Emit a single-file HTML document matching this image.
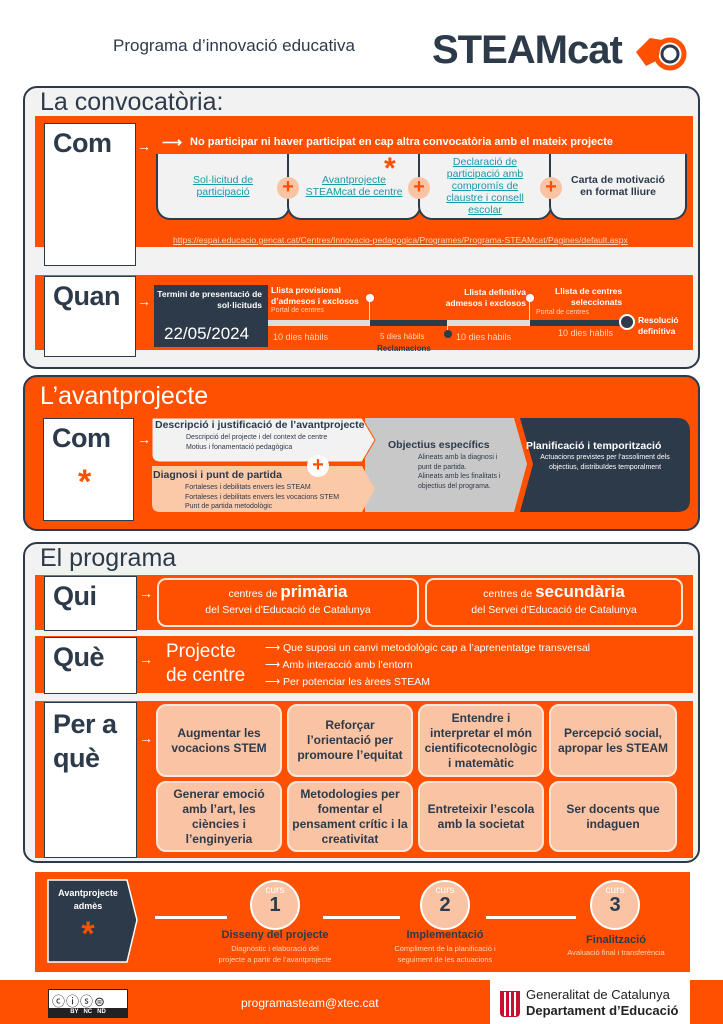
<!DOCTYPE html>
<html><head><meta charset="utf-8"><style>
*{box-sizing:border-box;margin:0;padding:0}
body{width:723px;height:1024px;background:#fff;font-family:"Liberation Sans",sans-serif;position:relative;overflow:hidden;color:#2d3a4a}
.a{position:absolute}
.or{background:#fe5000}
.sec{position:absolute;border:2.5px solid #2d3a4a;border-radius:14px}
.wb{position:absolute;background:#fff;border:1.5px solid #2d3a4a}
.big{font-weight:bold;font-size:27px;color:#2d3a4a;position:absolute;left:8px;top:4px;letter-spacing:-0.5px}
.c{text-align:center}
.w{color:#fff}
.card{position:absolute;background:#f2f2f2;border:2.5px solid #2d3a4a;border-top:none;border-radius:0 0 14px 14px;display:flex;align-items:center;justify-content:center;text-align:center;font-size:10.5px}
.lnk{color:#1a9aa8;text-decoration:underline}
.plus{position:absolute;width:22px;height:22px;border-radius:50%;background:#f9c3a4;color:#fe5000;font-weight:bold;font-size:20px;line-height:21px;text-align:center}
.pc{position:absolute;background:#f9c3a4;border:2px solid #fde6d8;border-radius:10px;display:flex;align-items:center;justify-content:center;text-align:center;font-size:12px;line-height:15px;color:#2d3a4a;font-weight:bold}
.arr{position:absolute;color:#fff;font-size:14px;font-weight:bold}
.circ{position:absolute;width:50px;height:50px;border-radius:50%;background:#f9c3a4;border:2px solid #fff;text-align:center;color:#2d3a4a}
</style></head><body>
<div class="a" style="left:113px;top:36px;font-size:17px;color:#2d3a4a">Programa d’innovació educativa</div>
<div class="a" style="left:432px;top:28px;font-size:40px;font-weight:bold;color:#2d3a4a;letter-spacing:-1px">STEAMcat</div>
<svg class="a" style="left:632px;top:32px" width="60" height="45"><path d="M4 20 L18 6 L30 8 L26 28 L14 34 Z" fill="#fe5000"/><circle cx="38" cy="22" r="14" fill="none" stroke="#fe5000" stroke-width="5"/><circle cx="38" cy="22" r="8" fill="none" stroke="#2d3a4a" stroke-width="3"/></svg>

<!-- Section 1 -->
<div class="sec" style="left:23px;top:86px;width:677px;height:283px;background:#f2f2f2"></div>
<div class="a" style="left:40px;top:88px;font-size:25px;color:#2d3a4a">La convocatòria:</div>
<div class="a or" style="left:35px;top:116px;width:658px;height:131px"></div>
<div class="wb" style="left:44px;top:123px;width:92px;height:143px"><div class="big">Com</div></div>
<div class="arr" style="left:137px;top:138px">→</div>
<div class="a w" style="left:162px;top:134px;font-size:14px;font-weight:bold">⟶</div>
<div class="a w" style="left:190px;top:136px;font-size:11px;font-weight:bold">No participar ni haver participat en cap altra convocatòria amb el mateix projecte</div>
<div class="card" style="left:156px;top:154px;width:134px;height:66px"><span class="lnk">Sol·licitud de<br>participació</span></div>
<div class="card" style="left:287px;top:154px;width:134px;height:66px"><span class="lnk">Avantprojecte<br>STEAMcat de centre</span></div>
<div class="card" style="left:418px;top:154px;width:134px;height:66px"><span class="lnk">Declaració de<br>participació amb<br>compromís de<br>claustre i consell<br>escolar</span></div>
<div class="card" style="left:549px;top:154px;width:138px;height:66px"><b>Carta de motivació<br>en format lliure</b></div>
<div class="a" style="left:384px;top:152px;color:#fe5000;font-size:30px;font-weight:bold">*</div>
<div class="plus" style="left:277px;top:177px">+</div>
<div class="plus" style="left:408px;top:177px">+</div>
<div class="plus" style="left:540px;top:177px">+</div>
<div class="a" style="left:173px;top:235px;font-size:8.6px;color:#fdd5bd;text-decoration:underline">https://espai.educacio.gencat.cat/Centres/Innovacio-pedagogica/Programes/Programa-STEAMcat/Pagines/default.aspx</div>

<div class="a or" style="left:35px;top:275px;width:658px;height:75px"></div>
<div class="wb" style="left:44px;top:276px;width:92px;height:81px"><div class="big">Quan</div></div>
<div class="arr" style="left:137px;top:293px">→</div>
<div class="a" style="left:154px;top:285px;width:114px;height:62px;background:#2d3a4a"></div>
<div class="a w" style="left:156px;top:289px;width:106px;font-size:8.5px;font-weight:bold;text-align:right;line-height:11px">Termini de presentació de sol·licituds</div>
<div class="a w" style="left:164px;top:324px;font-size:17px">22/05/2024</div>
<div class="a" style="left:268px;top:320px;width:102px;height:6px;background:#ddd"></div>
<div class="a" style="left:370px;top:320px;width:77px;height:6px;background:#2d3a4a"></div>
<div class="a" style="left:447px;top:320px;width:83px;height:6px;background:#ddd"></div>
<div class="a" style="left:530px;top:320px;width:95px;height:6px;background:#2d3a4a"></div>
<div class="a" style="left:369px;top:300px;width:1px;height:22px;background:#ddd"></div>
<div class="a" style="left:366px;top:294px;width:8px;height:8px;border-radius:50%;background:#fff"></div>
<div class="a" style="left:447px;top:324px;width:1px;height:10px;background:#ddd"></div>
<div class="a" style="left:444px;top:330px;width:8px;height:8px;border-radius:50%;background:#2d3a4a"></div>
<div class="a" style="left:529px;top:300px;width:1px;height:22px;background:#ddd"></div>
<div class="a" style="left:526px;top:294px;width:8px;height:8px;border-radius:50%;background:#fff"></div>
<div class="a" style="left:619px;top:314px;width:16px;height:16px;border-radius:50%;background:#2d3a4a;border:2px solid #fff"></div>
<div class="a w" style="left:271px;top:285px;font-size:8.5px;font-weight:bold;line-height:11px">Llista provisional<br>d’admesos i exclosos</div>
<div class="a" style="left:271px;top:307px;font-size:7px;color:#fdd5bd">Portal de centres</div>
<div class="a" style="left:273px;top:332px;font-size:9px;color:#fdd5bd">10 dies hàbils</div>
<div class="a" style="left:380px;top:332px;font-size:8px;color:#fdd5bd">5 dies hàbils</div>
<div class="a" style="left:377px;top:344px;font-size:8px;font-weight:bold;color:#2d3a4a">Reclamacions</div>
<div class="a" style="left:456px;top:332px;font-size:9px;color:#fdd5bd">10 dies hàbils</div>
<div class="a w" style="left:444px;top:287px;width:82px;font-size:8.5px;font-weight:bold;line-height:11px;text-align:right">Llista definitiva admesos i exclosos</div>
<div class="a w" style="left:555px;top:286px;font-size:8.5px;font-weight:bold;line-height:11px;text-align:right">Llista de centres<br>&nbsp;&nbsp;&nbsp;seleccionats</div>
<div class="a" style="left:536px;top:309px;font-size:7px;color:#fdd5bd">Portal de centres</div>
<div class="a" style="left:558px;top:328px;font-size:9px;color:#fdd5bd">10 dies hàbils</div>
<div class="a w" style="left:638px;top:315px;font-size:8.5px;font-weight:bold;line-height:11px">Resolució<br>definitiva</div>

<!-- Section 2 -->
<div class="sec or" style="left:23px;top:375px;width:677px;height:156px"></div>
<div class="a w" style="left:40px;top:382px;font-size:25px">L’avantprojecte</div>
<div class="wb" style="left:43px;top:418px;width:91px;height:103px"><div class="big">Com</div><div class="a" style="left:34px;top:44px;color:#fe5000;font-size:34px;font-weight:bold">*</div></div>
<div class="arr" style="left:137px;top:431px">→</div>
<svg class="a" style="left:152px;top:416px" width="542" height="98">
<path d="M213 2 L362 2 L375 48 L362 96 L213 96 Z" fill="#c8c8c8"/>
<path d="M368 2 L525 2 Q538 2 538 16 L538 84 Q538 96 525 96 L368 96 L381 48 Z" fill="#2d3a4a"/>
<path d="M0 2 L210 2 L223 24 L210 46 L8 46 Q0 46 0 38 Z" fill="#f2f2f2" stroke="#fe5000" stroke-width="1"/>
<path d="M0 50 L210 50 L223 73 L210 96 L8 96 Q0 96 0 88 Z" fill="#fbc8a8"/>
</svg>
<div class="a" style="left:155px;top:419px;font-size:10.5px;font-weight:bold;color:#2d3a4a">Descripció i justificació de l’avantprojecte</div>
<div class="a" style="left:186px;top:433px;font-size:7px;line-height:9.5px">Descripció del projecte i del context de centre<br>Motius i fonamentació pedagògica</div>
<div class="a" style="left:307px;top:455px;width:22px;height:22px;border-radius:50%;background:#fff;color:#fe5000;font-size:20px;line-height:21px;text-align:center;font-weight:bold">+</div>
<div class="a" style="left:153px;top:469px;font-size:10.5px;font-weight:bold">Diagnosi i punt de partida</div>
<div class="a" style="left:185px;top:483px;font-size:7px;line-height:9.5px">Fortaleses i debilitats envers les STEAM<br>Fortaleses i debilitats envers les vocacions STEM<br>Punt de partida metodològic</div>
<div class="a" style="left:388px;top:439px;font-size:10.5px;font-weight:bold">Objectius específics</div>
<div class="a" style="left:418px;top:453px;font-size:7px;line-height:9.5px">Alineats amb la diagnosi i<br>punt de partida.<br>Alineats amb les finalitats i<br>objectius del programa.</div>
<div class="a w" style="left:526px;top:440px;font-size:10.5px;font-weight:bold">Planificació i temporització</div>
<div class="a w c" style="left:540px;top:453px;width:130px;font-size:7px;line-height:9.5px">Actuacions previstes per l’assoliment dels objectius, distribuïdes temporalment</div>

<!-- Section 3 -->
<div class="sec" style="left:23px;top:542px;width:677px;height:321px;background:#f2f2f2"></div>
<div class="a" style="left:40px;top:544px;font-size:25px">El programa</div>
<div class="a or" style="left:35px;top:575px;width:658px;height:55px"></div>
<div class="wb" style="left:44px;top:576px;width:93px;height:55px"><div class="big">Qui</div></div>
<div class="arr" style="left:139px;top:585px">→</div>
<div class="a c w" style="left:157px;top:578px;width:262px;height:49px;border:2px solid #fde6d8;border-radius:9px;font-size:10.5px;padding-top:4px;line-height:16px">centres de <span style="font-size:17px;font-weight:bold">primària</span><br>del Servei d'Educació de Catalunya</div>
<div class="a c w" style="left:425px;top:578px;width:258px;height:49px;border:2px solid #fde6d8;border-radius:9px;font-size:10.5px;padding-top:4px;line-height:16px">centres de <span style="font-size:17px;font-weight:bold">secundària</span><br>del Servei d'Educació de Catalunya</div>
<div class="a or" style="left:35px;top:636px;width:658px;height:57px"></div>
<div class="wb" style="left:44px;top:637px;width:93px;height:57px"><div class="big">Què</div></div>
<div class="arr" style="left:139px;top:651px">→</div>
<div class="a w" style="left:166px;top:640px;font-size:19px;line-height:24px">Projecte<br>de centre</div>
<div class="a w" style="left:265px;top:640px;font-size:10.5px;line-height:17px">⟶ Que suposi un canvi metodològic cap a l’aprenentatge transversal<br>⟶ Amb interacció amb l’entorn<br>⟶ Per potenciar les àrees STEAM</div>
<div class="a or" style="left:35px;top:701px;width:658px;height:157px"></div>
<div class="wb" style="left:44px;top:702px;width:93px;height:156px"><div class="big" style="line-height:34px">Per a<br>què</div></div>
<div class="arr" style="left:139px;top:730px">→</div>
<div class="pc" style="left:156px;top:704px;width:126px;height:73px">Augmentar les<br>vocacions STEM</div>
<div class="pc" style="left:287px;top:704px;width:126px;height:73px">Reforçar<br>l’orientació per<br>promoure l’equitat</div>
<div class="pc" style="left:418px;top:704px;width:126px;height:73px">Entendre i<br>interpretar el món<br>cientificotecnològic<br>i matemàtic</div>
<div class="pc" style="left:549px;top:704px;width:128px;height:73px">Percepció social,<br>apropar les STEAM</div>
<div class="pc" style="left:156px;top:781px;width:126px;height:71px">Generar emoció<br>amb l’art, les<br>ciències i<br>l’enginyeria</div>
<div class="pc" style="left:287px;top:781px;width:126px;height:71px">Metodologies per<br>fomentar el<br>pensament crític i la<br>creativitat</div>
<div class="pc" style="left:418px;top:781px;width:126px;height:71px">Entreteixir l’escola<br>amb la societat</div>
<div class="pc" style="left:549px;top:781px;width:128px;height:71px">Ser docents que<br>indaguen</div>

<!-- Section 4 -->
<div class="a or" style="left:35px;top:872px;width:655px;height:100px"></div>
<svg class="a" style="left:47px;top:879px" width="92" height="84"><path d="M1 1 L80 1 L90 41 L80 83 L1 83 Z" fill="#2d3a4a" stroke="#fff" stroke-width="1.5"/></svg>
<div class="a w c" style="left:48px;top:887px;width:80px;font-size:9px;font-weight:bold;line-height:13px">Avantprojecte<br>admès</div>
<div class="a c" style="left:48px;top:915px;width:80px;color:#fe5000;font-size:34px;font-weight:bold">*</div>
<div class="a" style="left:155px;top:916px;width:72px;height:3px;background:#fff"></div>
<div class="a" style="left:323px;top:916px;width:77px;height:3px;background:#fff"></div>
<div class="a" style="left:486px;top:916px;width:90px;height:3px;background:#fff"></div>
<div class="circ" style="left:250px;top:880px"><div style="font-size:10px;color:#fff;margin-top:3px">curs</div><div style="font-size:20px;font-weight:bold;line-height:18px">1</div></div>
<div class="circ" style="left:420px;top:880px"><div style="font-size:10px;color:#fff;margin-top:3px">curs</div><div style="font-size:20px;font-weight:bold;line-height:18px">2</div></div>
<div class="circ" style="left:590px;top:880px"><div style="font-size:10px;color:#fff;margin-top:3px">curs</div><div style="font-size:20px;font-weight:bold;line-height:18px">3</div></div>
<div class="a c" style="left:190px;top:929px;width:170px;font-size:11px;font-weight:bold">Disseny del projecte</div>
<div class="a c" style="left:190px;top:943px;width:170px;font-size:7.5px;line-height:11px;color:#fdd5bd">Diagnòstic i elaboració del<br>projecte a partir de l’avantprojecte</div>
<div class="a c" style="left:370px;top:929px;width:150px;font-size:11px;font-weight:bold">Implementació</div>
<div class="a c" style="left:370px;top:943px;width:150px;font-size:7.5px;line-height:11px;color:#fdd5bd">Compliment de la planificació i<br>seguiment de les actuacions</div>
<div class="a c" style="left:550px;top:934px;width:132px;font-size:11px;font-weight:bold">Finalització</div>
<div class="a c" style="left:550px;top:948px;width:132px;font-size:7.5px;color:#fdd5bd">Avaluació final i transferència</div>

<!-- Footer -->
<div class="a or" style="left:0;top:980px;width:723px;height:44px"></div>
<div class="a" style="left:48px;top:989px;width:80px;height:29px;background:#fff;border:1.5px solid #222"><div style="position:absolute;left:0;bottom:0;width:100%;height:9px;background:#222;color:#fff;font-size:6px;font-weight:bold;text-align:center;line-height:9px">BY &nbsp; NC &nbsp; ND</div><div style="position:absolute;left:3px;top:1px;font-size:13px;color:#222;letter-spacing:1px">ⓒⓘⓢ⊜</div></div>
<div class="a w" style="left:241px;top:996px;font-size:12px">programasteam@xtec.cat</div>
<div class="a" style="left:490px;top:980px;width:200px;height:44px;background:#fff"></div>
<div class="a" style="left:500px;top:991px;width:20px;height:26px;background:repeating-linear-gradient(90deg,#c8102e 0 3px,#fff 3px 5px);border:1px solid #c8102e;border-radius:0 0 4px 4px"></div>
<div class="a" style="left:526px;top:987px;font-size:13px;color:#222;line-height:16px">Generalitat de Catalunya<br><b>Departament d’Educació</b></div>
</body></html>
